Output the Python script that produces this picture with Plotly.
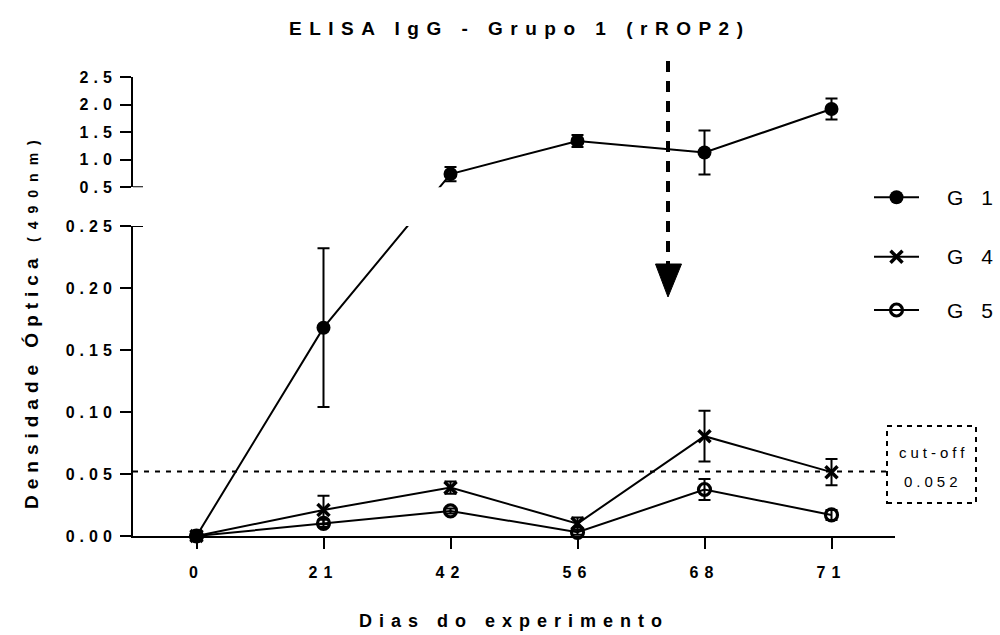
import plotly.graph_objects as go

# ---------------- data ----------------
days = ["0", "21", "42", "56", "68", "71"]
g1_mean = [0.0, 0.168, 0.74, 1.34, 1.13, 1.92]
g1_err = [0.0, 0.064, 0.13, 0.11, 0.40, 0.19]
g4_mean = [0.0, 0.021, 0.039, 0.010, 0.0805, 0.0515]
g4_err = [0.0, 0.0115, 0.005, 0.005, 0.0205, 0.0105]
g5_mean = [0.0, 0.0102, 0.0202, 0.003, 0.0375, 0.017]
g5_err = [0.0, 0.003, 0.002, 0.002, 0.0085, 0.004]
series_names = ["G 1", "G 4", "G 5"]
cutoff = 0.052
cutoff_label = ["cut-off", "0.052"]
lower_ticks = [0.0, 0.05, 0.10, 0.15, 0.20, 0.25]
upper_ticks = [0.5, 1.0, 1.5, 2.0, 2.5]
title_text = "ELISA IgG - Grupo 1 (rROP2)"
x_title = "Dias do experimento"
y_title_main = "Densidade Óptica"
y_title_unit = "(490nm)"

# ---------------- geometry ----------------
W, H = 1000, 635
L, R, T, B = 133, 5, 77, 99
PW, PH = W - L - R, H - T - B
FONT = "Liberation Sans, Arial, sans-serif"


def px(xpix):
    return (xpix - L) / PW


def py(ypix):
    return (H - B - ypix) / PH


LOW_RANGE = [0.0, 0.25]
UP_RANGE = [0.5, 2.5]
lo_dom = [0.0, py(226)]
up_dom = [py(187.3), 1.0]
x_dom = [0.0, px(895)]


def to_paper(v):
    if v <= LOW_RANGE[1]:
        return lo_dom[0] + (v - LOW_RANGE[0]) / (LOW_RANGE[1] - LOW_RANGE[0]) * (lo_dom[1] - lo_dom[0])
    return up_dom[0] + (v - UP_RANGE[0]) / (UP_RANGE[1] - UP_RANGE[0]) * (up_dom[1] - up_dom[0])


def paper_to_lower(p):
    return LOW_RANGE[0] + (p - lo_dom[0]) / (lo_dom[1] - lo_dom[0]) * (LOW_RANGE[1] - LOW_RANGE[0])


def paper_to_upper(p):
    return UP_RANGE[0] + (p - up_dom[0]) / (up_dom[1] - up_dom[0]) * (UP_RANGE[1] - UP_RANGE[0])


def spaced(text, s):
    return f"<span style='letter-spacing:{s}px'>{text}</span>"


# broken-axis scale: G1 expressed in units of each panel
g1_lower = [paper_to_lower(to_paper(v)) for v in g1_mean]
g1_upper = [paper_to_upper(to_paper(v)) for v in g1_mean]
g1_err_lower = [e if v <= LOW_RANGE[1] else None for v, e in zip(g1_mean, g1_err)]
g1_err_upper = [e if v >= UP_RANGE[0] else None for v, e in zip(g1_mean, g1_err)]

BLACK = "black"
LW = 2
err_style = dict(type="data", thickness=2, width=6, color=BLACK, visible=True)

m_g1 = dict(symbol="circle", size=14, color=BLACK, line=dict(width=0))
m_g4 = dict(symbol="x-thin", size=12, color=BLACK, line=dict(width=3.5, color=BLACK))
m_g5 = dict(symbol="circle-open", size=12, color=BLACK, line=dict(width=3.2, color=BLACK))

fig = go.Figure()

fig.add_trace(go.Scatter(x=days, y=g5_mean, mode="lines+markers", name=series_names[2],
                         line=dict(color=BLACK, width=LW), marker=m_g5,
                         error_y=dict(array=g5_err, **err_style),
                         cliponaxis=False, xaxis="x", yaxis="y", showlegend=False))
fig.add_trace(go.Scatter(x=days, y=g4_mean, mode="lines+markers", name=series_names[1],
                         line=dict(color=BLACK, width=LW), marker=m_g4,
                         error_y=dict(array=g4_err, **err_style),
                         cliponaxis=False, xaxis="x", yaxis="y", showlegend=False))
fig.add_trace(go.Scatter(x=days, y=g1_lower, mode="lines+markers", name=series_names[0],
                         line=dict(color=BLACK, width=LW), marker=m_g1,
                         error_y=dict(array=g1_err_lower, **err_style),
                         cliponaxis=False, xaxis="x", yaxis="y", showlegend=False))
fig.add_trace(go.Scatter(x=days, y=g1_upper, mode="lines+markers", name=series_names[0],
                         line=dict(color=BLACK, width=LW), marker=m_g1,
                         error_y=dict(array=g1_err_upper, **err_style),
                         cliponaxis=False, xaxis="x", yaxis="y2", showlegend=False))

# ---------------- manual legend ----------------
leg_rows = [197.3, 256.7, 310]
leg_markers = [m_g1, m_g4, m_g5]
for name, yy, mk in zip(series_names, leg_rows, leg_markers):
    fig.add_trace(go.Scatter(x=[874, 919], y=[yy, yy], mode="lines",
                             line=dict(color=BLACK, width=LW),
                             xaxis="x3", yaxis="y3", showlegend=False, hoverinfo="skip"))
    fig.add_trace(go.Scatter(x=[896.5], y=[yy], mode="markers", marker=mk,
                             xaxis="x3", yaxis="y3", showlegend=False, hoverinfo="skip",
                             cliponaxis=False))

annotations = []
for name, yy in zip(series_names, leg_rows):
    annotations.append(dict(xref="x3", yref="y3", x=945, y=yy, xanchor="left", yanchor="middle",
                            text=spaced(name, 6), showarrow=False,
                            font=dict(family=FONT, size=21, color=BLACK)))

# titles
annotations.append(dict(xref="paper", yref="paper", x=px(519), y=py(28), xanchor="center", yanchor="middle",
                        text="<b>" + spaced(title_text, 7.5) + "</b>", showarrow=False,
                        font=dict(family=FONT, size=19, color=BLACK)))
annotations.append(dict(xref="paper", yref="paper", x=px(514), y=py(621), xanchor="center", yanchor="middle",
                        text="<b>" + spaced(x_title, 7) + "</b>", showarrow=False,
                        font=dict(family=FONT, size=18, color=BLACK)))
annotations.append(dict(xref="paper", yref="paper", x=px(31), y=py(321), xanchor="center", yanchor="middle",
                        textangle=-90,
                        text="<b>" + spaced(y_title_main, 6) + "  "
                             + "<span style='font-size:14px;letter-spacing:8px'>" + y_title_unit + "</span></b>",
                        showarrow=False, font=dict(family=FONT, size=19, color=BLACK)))
# cut-off label
annotations.append(dict(xref="paper", yref="paper", x=px(933), y=py(452), xanchor="center", yanchor="middle",
                        text=spaced(cutoff_label[0], 4), showarrow=False,
                        font=dict(family=FONT, size=15, color=BLACK)))
annotations.append(dict(xref="paper", yref="paper", x=px(933), y=py(481), xanchor="center", yanchor="middle",
                        text=spaced(cutoff_label[1], 4), showarrow=False,
                        font=dict(family=FONT, size=15, color=BLACK)))

shapes = [
    # cut-off line
    dict(type="line", xref="paper", yref="y", x0=0, x1=px(887), y0=cutoff, y1=cutoff,
         line=dict(color=BLACK, width=2, dash="5px,6px")),
    # cut-off box
    dict(type="rect", xref="paper", yref="paper", x0=px(887), x1=px(976), y0=py(503), y1=py(426),
         line=dict(color=BLACK, width=2, dash="5px,5px")),
    # axis break marks
    dict(type="line", xref="paper", yref="y", x0=0, x1=px(143), y0=LOW_RANGE[1], y1=LOW_RANGE[1],
         line=dict(color=BLACK, width=2)),
    dict(type="line", xref="paper", yref="y2", x0=0, x1=px(143), y0=UP_RANGE[0], y1=UP_RANGE[0],
         line=dict(color=BLACK, width=2)),
    # dashed arrow
    dict(type="line", xref="paper", yref="paper", x0=px(668), x1=px(668), y0=py(61), y1=py(266),
         line=dict(color=BLACK, width=4, dash="11px,9px")),
    dict(type="path", xref="paper", yref="paper",
         path=f"M {px(655.5)},{py(264)} L {px(681.5)},{py(264)} L {px(668)},{py(297)} Z",
         fillcolor=BLACK, line=dict(color=BLACK, width=1)),
]

tickfont = dict(family=FONT, size=16, color=BLACK, weight="bold")
axis_common = dict(showline=True, linecolor=BLACK, linewidth=2, ticks="outside", ticklen=11,
                   tickwidth=2, tickcolor=BLACK, showgrid=False, zeroline=False, tickfont=tickfont)

fig.update_layout(
    width=W, height=H,
    margin=dict(l=L, r=R, t=T, b=B, pad=0),
    paper_bgcolor="white", plot_bgcolor="white",
    showlegend=False,
    xaxis=dict(domain=x_dom, type="category", range=[-0.5, len(days) - 0.5], anchor="y",
               tickvals=days, ticktext=[spaced(d, 6) for d in days], ticklabelstandoff=10,
               **axis_common),
    yaxis=dict(domain=lo_dom, range=LOW_RANGE, anchor="x",
               tickvals=lower_ticks, ticktext=[spaced(f"{v:.2f}", 5) for v in lower_ticks],
               **axis_common),
    yaxis2=dict(domain=up_dom, range=UP_RANGE, anchor="x",
                tickvals=upper_ticks, ticktext=[spaced(f"{v:.1f}", 5) for v in upper_ticks],
                **axis_common),
    xaxis3=dict(domain=[px(860), 1.0], range=[860, 995], anchor="y3", visible=False, fixedrange=True),
    yaxis3=dict(domain=[py(330), py(180)], range=[330, 180], anchor="x3", visible=False, fixedrange=True),
    annotations=annotations,
    shapes=shapes,
    hovermode=False,
)

fig.write_html("out.html",
               config={"displayModeBar": False, "staticPlot": True},
               post_script="document.body.style.margin='0';document.body.style.overflow='hidden';")
